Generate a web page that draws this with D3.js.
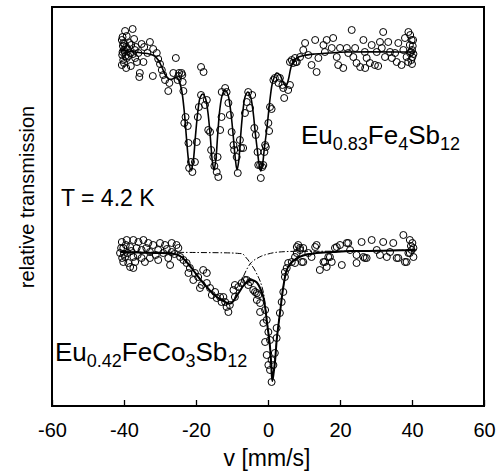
<!DOCTYPE html>
<html>
<head>
<meta charset="utf-8">
<script src="https://cdn.jsdelivr.net/npm/d3@7"></script>
<style>
  html, body { margin: 0; padding: 0; background: #fff; }
  svg { display: block; font-family: "Liberation Sans", Arial, Helvetica, sans-serif; }
</style>
</head>
<body>
<div id="chart"></div>
<script>
// velocity [mm/s], relative transmission (each spectrum normalised to 1)
const xTicks = [-60, -40, -20, 0, 20, 40, 60];

// Eu0.83Fe4Sb12 - measured points
const topPoints = [
  [-40.6,1.012],[-40.4,1.015],[-40.3,1.006],[-40.2,1.009],[-40.0,1.002],[-40.5,0.997],[-39.9,1.008],
  [-40.2,0.992],[-39.6,0.996],[-40.6,0.987],[-39.8,1.000],[-40.4,1.000],[-40.0,0.989],[-39.7,1.021],
  [-39.25,1.016],[-39.4,1.005],[-39.25,0.994],[-39.4,0.984],[-39.0,1.003],[-38.8,0.996],[-38.5,1.009],
  [-38.3,0.999],[-38.1,0.986],[-38.0,1.007],[-37.6,1.023],[-37.5,0.998],[-37.2,1.013],[-37.0,1.002],
  [-36.9,0.994],[-36.7,1.005],[-36.4,0.990],[-36.0,0.999],[-35.75,0.975],[-35.6,0.979],[-35.1,1.008],
  [-34.6,0.990],[-34.4,1.005],[-33.5,0.999],[-32.8,1.010],[-32.0,0.976],[-31.9,1.003],[-30.9,0.999],
  [-30.5,0.993],[-30.0,0.988],[-29.5,0.982],[-29.1,0.977],[-28.6,0.972],[-27.7,0.961],[-27.4,0.969],
  [-26.3,0.979],[-25.6,0.994],[-25.1,0.972],[-24.9,0.976],[-24.7,0.979],[-24.0,0.979],[-23.8,0.977],
  [-23.7,0.970],[-23.5,0.961],[-23.25,0.929],[-22.9,0.935],[-22.3,0.926],[-22.1,0.909],[-21.9,0.884],
  [-21.4,0.890],[-21.0,0.880],[-20.3,0.890],[-19.8,0.910],[-19.5,0.935],[-19.2,0.945],[-18.6,0.985],
  [-17.9,0.980],[-18.6,0.957],[-17.5,0.947],[-17.0,0.952],[-16.6,0.922],[-16.1,0.920],[-15.8,0.902],
  [-15.2,0.895],[-14.9,0.886],[-14.25,0.880],[-13.8,0.875],[-14.0,0.895],[-13.3,0.922],[-12.9,0.935],
  [-12.85,0.960],[-11.9,0.964],[-11.5,0.960],[-11.0,0.949],[-10.6,0.937],[-10.1,0.920],[-9.6,0.907],
  [-9.4,0.902],[-8.7,0.895],[-8.4,0.879],[-7.8,0.912],[-7.5,0.904],[-6.9,0.904],[-6.4,0.939],
  [-5.9,0.950],[-5.5,0.960],[-5.0,0.944],[-4.4,0.957],[-3.8,0.924],[-3.4,0.917],[-2.9,0.900],
  [-2.7,0.887],[-2.2,0.887],[-2.0,0.874],[-1.6,0.885],[-1.3,0.887],[-1.0,0.900],[-0.8,0.907],
  [-0.6,0.905],[0.1,0.929],[0.3,0.921],[0.56,0.945],[1.0,0.943],[1.5,0.972],[1.9,0.974],[2.9,0.969],
  [3.3,0.974],[4.0,0.967],[4.25,0.964],[4.5,0.954],[5.6,0.962],[6.1,0.967],[6.1,0.990],[6.6,0.992],
  [7.0,0.989],[7.5,0.994],[7.7,0.990],[8.0,0.990],[8.9,0.995],[9.8,1.002],[10.3,1.009],[11.2,0.997],
  [12.1,0.987],[13.1,1.012],[13.5,0.980],[14.0,0.994],[15.4,1.007],[15.8,1.000],[16.3,1.012],
  [17.7,1.004],[18.1,1.014],[19.1,0.995],[19.5,0.987],[20.0,1.004],[20.9,0.984],[21.9,1.004],
  [22.3,0.999],[23.25,1.022],[23.7,0.995],[24.2,1.004],[24.6,0.989],[25.6,0.985],[26.5,1.012],
  [26.9,1.000],[27.0,0.984],[27.4,0.994],[28.3,0.989],[28.8,1.007],[29.7,0.987],[30.2,1.000],
  [30.6,0.986],[31.1,1.010],[31.6,1.004],[32.0,1.020],[32.5,0.995],[33.4,1.010],[33.9,1.000],
  [34.4,0.994],[35.3,0.999],[35.75,0.990],[36.2,1.009],[37.1,0.987],[37.6,1.002],[38.05,1.014],
  [38.5,0.995],[38.95,0.990],[39.0,1.020],[39.4,1.007],[39.45,0.999],[39.5,1.017],[39.9,1.012],
  [40.0,1.002],[40.1,0.995],[39.8,0.992],[40.2,1.006],[39.7,1.000],[40.0,0.988],[40.3,1.012],[40.4,0.998]
];

// Eu0.83Fe4Sb12 - fit
const topFit = [
  [-41,1.002],[-39,1.001],[-37,1.000],[-35,0.999],[-33,0.998],[-31.5,0.996],[-30.5,0.992],
  [-29.5,0.985],[-28.5,0.977],[-27.5,0.973],[-26.5,0.973],[-25.5,0.975],[-24.8,0.972],[-24,0.962],
  [-23.3,0.942],[-22.6,0.912],[-22,0.890],[-21.4,0.882],[-20.8,0.890],[-20.2,0.914],[-19.5,0.940],
  [-18.8,0.955],[-18.1,0.958],[-17.4,0.954],[-16.7,0.940],[-16.0,0.914],[-15.5,0.892],[-15.0,0.882],
  [-14.5,0.892],[-14.0,0.916],[-13.4,0.942],[-12.7,0.957],[-11.9,0.962],[-11.1,0.957],[-10.4,0.942],
  [-9.7,0.918],[-9.1,0.894],[-8.6,0.882],[-8.1,0.892],[-7.6,0.916],[-7.0,0.940],[-6.3,0.956],
  [-5.6,0.960],[-4.9,0.956],[-4.2,0.942],[-3.5,0.918],[-2.9,0.900],[-2.4,0.886],[-2.0,0.881],
  [-1.5,0.888],[-1.0,0.904],[-0.5,0.918],[0.0,0.934],[0.6,0.954],[1.3,0.970],[2.4,0.979],[3.3,0.977],
  [4.2,0.970],[5.0,0.966],[5.7,0.973],[6.6,0.987],[8.0,0.994],[10,0.9965],[13,0.998],[17,0.999],
  [22,1.000],[40,1.000],[41,1.000]
];

// Eu0.42FeCo3Sb12 - measured points
const botPoints = [
  [-40.6,1.010],[-39.25,1.012],[-37.4,1.012],[-36.0,1.010],[-34.6,1.012],[-33.25,1.009],[-31.9,1.007],
  [-30.0,1.009],[-28.6,1.007],[-26.75,1.009],[-25.4,1.007],[-24.9,1.004],[-40.2,1.004],[-38.3,1.005],
  [-36.5,1.004],[-35.1,1.002],[-32.8,1.000],[-30.5,1.002],[-29.1,0.999],[-26.75,1.000],[-41.1,0.999],
  [-39.7,0.995],[-37.4,0.995],[-35.1,0.994],[-32.8,0.994],[-30.5,0.992],[-27.7,0.994],[-24.4,0.995],
  [-40.2,0.990],[-38.8,0.989],[-36.9,0.990],[-34.2,0.990],[-27.2,0.987],[-38.3,0.985],[-37.4,0.984],
  [-40.8,1.004],[-40.5,0.994],[-40.0,0.998],[-39.5,1.007],[-39.0,0.999],[-38.0,1.001],[-36.2,0.997],
  [-33.8,1.004],[-31.2,0.997],[-28.1,1.003],[-26.0,0.998],
  [-23.5,0.992],[-22.6,0.989],[-21.7,0.984],[-22.1,0.979],[-20.3,0.979],[-19.4,0.975],[-20.75,0.972],
  [-18.0,0.982],[-17.0,0.979],[-18.4,0.967],[-18.9,0.964],[-17.0,0.969],[-16.1,0.964],[-15.6,0.957],
  [-14.7,0.960],[-14.25,0.954],[-13.3,0.955],[-12.9,0.950],[-11.9,0.950],[-12.4,0.955],[-11.5,0.945],
  [-11.0,0.940],[-10.6,0.947],[-9.6,0.962],[-9.2,0.967],[-9.2,0.955],[-8.25,0.965],[-7.3,0.969],
  [-6.4,0.972],[-5.5,0.967],[-5.0,0.970],[-4.1,0.962],[-3.1,0.959],[-5.9,0.972],[-3.6,0.960],
  [-2.7,0.957],[-3.1,0.952],[-2.2,0.949],[-2.2,0.940],[-1.3,0.929],[-0.8,0.942],[-0.36,0.932],
  [0.1,0.920],[0.56,0.912],[-0.8,0.910],[-0.36,0.897],[0.1,0.887],[0.56,0.882],[1.0,0.892],
  [1.5,0.887],[1.0,0.870],[1.9,0.899],[2.4,0.914],[2.4,0.924],[3.3,0.939],[3.8,0.950],[4.25,0.960],
  [4.7,0.975],[4.7,0.980],[5.2,0.984],[5.6,0.989],[6.6,0.990],[7.5,0.995],[7.5,0.989],[8.0,0.999],
  [8.0,1.005],[8.4,1.007],[8.9,1.004],[8.9,1.002],[9.4,0.990],[9.8,0.990],[9.8,1.004],[11.2,0.999],
  [12.1,0.995],[13.1,1.005],[13.5,1.007],[14.4,0.982],[15.4,0.990],[15.8,0.990],[16.3,0.985],
  [16.75,0.995],[17.2,0.995],[17.7,0.990],[18.6,1.004],[19.1,1.005],[20.0,1.007],[20.5,0.987],
  [21.9,1.009],[22.3,1.009],[22.8,1.002],[24.6,0.997],[24.6,0.989],[26.0,1.010],[26.5,0.995],
  [26.9,0.994],[27.4,0.994],[28.8,1.012],[30.2,1.002],[31.1,0.997],[32.0,1.010],[33.0,0.995],
  [33.9,1.000],[34.8,1.009],[35.75,0.994],[36.2,0.994],[37.6,1.017],[38.05,0.990],[38.5,0.990],
  [39.4,1.012],[39.9,1.002],[40.4,0.995],[39.0,0.999],[40.4,1.004],[39.4,0.999],[40.1,1.009],[39.7,1.006]
];

// Eu0.42FeCo3Sb12 - total fit
const botFit = [
  [-41,1.000],[-36,0.9995],[-31,0.999],[-27,0.9985],[-25.4,0.9975],[-24,0.995],[-22.6,0.990],
  [-20.8,0.982],[-18.9,0.973],[-17,0.965],[-15.2,0.958],[-13.8,0.954],[-12.4,0.951],[-11.2,0.949],
  [-10.4,0.9485],[-9.6,0.951],[-8.7,0.956],[-7.8,0.961],[-6.9,0.966],[-5.9,0.970],[-5.0,0.972],
  [-4.0,0.9715],[-3.1,0.9695],[-2.2,0.964],[-1.3,0.955],[-0.7,0.942],[-0.36,0.932],[0.1,0.919],
  [0.56,0.905],[0.9,0.887],[1.2,0.871],[1.6,0.880],[1.94,0.890],[2.42,0.912],[2.9,0.927],[3.33,0.939],
  [4.25,0.965],[5.19,0.982],[6.1,0.988],[7.0,0.991],[8.4,0.9945],[9.8,0.9965],[11.7,0.998],
  [13.5,0.999],[18,1.000],[23,1.001],[28,1.001],[32,1.0013],[37,1.0017],[41,1.002]
];

// narrow subspectrum
const compNarrow = [
  [-41,1.000],[-20,0.9995],[-10,0.999],[-8,0.9985],[-7,0.998],[-6,0.994],[-5.5,0.992],[-5,0.989],
  [-4,0.984],[-3.1,0.978],[-2.2,0.971],[-1.3,0.960],[-0.7,0.945],[-0.36,0.934],[0.1,0.920],
  [0.56,0.906],[0.9,0.888],[1.2,0.872],[1.6,0.881],[1.94,0.891],[2.42,0.913],[2.9,0.928],[3.33,0.940],
  [4.25,0.9655],[5.19,0.982],[6.1,0.988],[7.0,0.9915],[8.4,0.995],[9.8,0.997],[11.7,0.9985],
  [13.5,0.9995],[18,1.000],[23,1.001],[32,1.0013],[41,1.002]
];

// broad subspectrum
const compBroad = [
  [-41,1.000],[-36,0.9995],[-31,0.999],[-27,0.9985],[-25.4,0.9975],[-24,0.995],[-22.6,0.990],
  [-20.8,0.982],[-18.9,0.973],[-17,0.965],[-15.2,0.958],[-13.8,0.954],[-12.4,0.951],[-11.2,0.949],
  [-10.4,0.9485],[-9.6,0.952],[-8.7,0.959],[-7.8,0.967],[-6.9,0.975],[-6.0,0.982],[-5.0,0.988],
  [-4.5,0.990],[-4.0,0.9915],[-3.1,0.9935],[-1.75,0.996],[0,0.998],[1.9,0.9995],[5.6,1.0005],
  [13.5,1.0007],[23,1.001],[41,1.002]
];

const topOffset = 0.2; // vertical shift of the upper spectrum

const width = 500, height = 476;
const svg = d3.select("#chart").append("svg")
  .attr("width", width)
  .attr("height", height);

const x = d3.scaleLinear().domain([-60, 60]).range([52, 484]);
const y = d3.scaleLinear().domain([0.846, 1.245]).range([406, 7]);

const line = (off) => d3.line()
  .x(d => x(d[0]))
  .y(d => y(d[1] + off))
  .curve(d3.curveCatmullRom.alpha(0.5));

// subspectra (dash-dot)
[compNarrow, compBroad].forEach(c => {
  svg.append("path")
    .attr("d", line(0)(c))
    .attr("fill", "none")
    .attr("stroke", "#000")
    .attr("stroke-width", 1)
    .attr("stroke-dasharray", "6,2,1.5,2");
});

// points
svg.append("g").selectAll("circle")
  .data(topPoints)
  .join("circle")
  .attr("cx", d => x(d[0]))
  .attr("cy", d => y(d[1] + topOffset))
  .attr("r", 3.5)
  .attr("fill", "none")
  .attr("stroke", "#000")
  .attr("stroke-width", 1);

svg.append("g").selectAll("circle")
  .data(botPoints)
  .join("circle")
  .attr("cx", d => x(d[0]))
  .attr("cy", d => y(d[1]))
  .attr("r", 3.5)
  .attr("fill", "none")
  .attr("stroke", "#000")
  .attr("stroke-width", 1);

// fits
svg.append("path")
  .attr("d", line(topOffset)(topFit))
  .attr("fill", "none")
  .attr("stroke", "#000")
  .attr("stroke-width", 1.6);

svg.append("path")
  .attr("d", line(0)(botFit))
  .attr("fill", "none")
  .attr("stroke", "#000")
  .attr("stroke-width", 2);

// frame
svg.append("rect")
  .attr("x", x(-60)).attr("y", y(1.245))
  .attr("width", x(60) - x(-60))
  .attr("height", y(0.846) - y(1.245))
  .attr("fill", "none")
  .attr("stroke", "#000")
  .attr("stroke-width", 2);

// x axis, ticks inward
const xAxis = svg.append("g")
  .attr("transform", `translate(0,${y(0.846)})`)
  .call(d3.axisBottom(x).tickValues(xTicks).tickSizeInner(-6).tickSizeOuter(0).tickPadding(17)
    .tickFormat(d => String(d)));
xAxis.select(".domain").remove();
xAxis.selectAll("line").attr("stroke-width", 1.3);
xAxis.selectAll("text")
  .attr("font-size", "20px")
  .attr("font-family", "Liberation Sans, Arial, sans-serif")
  .attr("fill", "#000");

svg.append("text")
  .attr("x", 267).attr("y", 466)
  .attr("text-anchor", "middle")
  .attr("font-size", "23px")
  .text("v [mm/s]");

svg.append("text")
  .attr("transform", "translate(34,197) rotate(-90)")
  .attr("text-anchor", "middle")
  .attr("font-size", "20px")
  .text("relative transmission");

svg.append("text")
  .attr("x", 61).attr("y", 206)
  .attr("font-size", "23px")
  .text("T = 4.2 K");

// formula labels with subscripts
function formula(xp, yp, parts) {
  const t = svg.append("text").attr("x", xp).attr("y", yp).attr("font-size", "26px");
  parts.forEach(p => {
    t.append("tspan")
      .attr("font-size", p.sub ? "18px" : "26px")
      .attr("dy", p.sub ? 6 : (p.back ? -6 : 0))
      .text(p.t);
  });
}
formula(301, 144, [{t: "Eu"}, {t: "0.83", sub: true}, {t: "Fe", back: true}, {t: "4", sub: true},
  {t: "Sb", back: true}, {t: "12", sub: true}]);
formula(55, 361, [{t: "Eu"}, {t: "0.42", sub: true}, {t: "FeCo", back: true}, {t: "3", sub: true},
  {t: "Sb", back: true}, {t: "12", sub: true}]);
</script>
</body>
</html>
